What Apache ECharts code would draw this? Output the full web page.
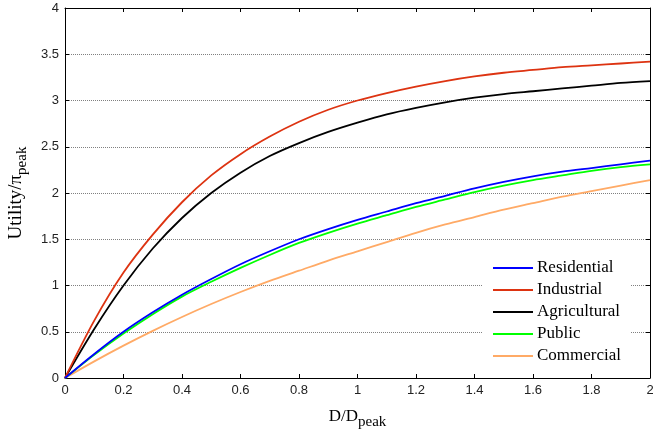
<!DOCTYPE html>
<html>
<head>
<meta charset="utf-8">
<script src="https://cdn.jsdelivr.net/npm/echarts@6/dist/echarts.min.js"></script>
<style>html,body{margin:0;padding:0;background:#fff}#c{width:653px;height:432px}</style>
</head>
<body>
<div id="c"></div>
<script>
var xs = [0, 0.1, 0.2, 0.3, 0.4, 0.5, 0.6, 0.7, 0.8, 0.9, 1.0, 1.1, 1.2, 1.3, 1.4, 1.5, 1.6, 1.7, 1.8, 1.9, 2.0];
var residential  = [0, 0.26, 0.50, 0.71, 0.90, 1.07, 1.23, 1.37, 1.50, 1.61, 1.71, 1.80, 1.89, 1.97, 2.05, 2.12, 2.18, 2.23, 2.27, 2.31, 2.35];
var industrial   = [0, 0.62, 1.14, 1.55, 1.90, 2.19, 2.42, 2.61, 2.77, 2.90, 3.00, 3.08, 3.15, 3.21, 3.26, 3.30, 3.33, 3.36, 3.38, 3.40, 3.42];
var agricultural = [0, 0.53, 1.00, 1.40, 1.73, 2.00, 2.22, 2.40, 2.54, 2.66, 2.76, 2.85, 2.92, 2.98, 3.03, 3.07, 3.10, 3.13, 3.16, 3.19, 3.21];
var publicS      = [0, 0.25, 0.48, 0.69, 0.88, 1.04, 1.19, 1.33, 1.46, 1.57, 1.67, 1.76, 1.85, 1.93, 2.01, 2.08, 2.14, 2.19, 2.24, 2.28, 2.31];
var commercial   = [0, 0.18, 0.35, 0.51, 0.66, 0.80, 0.93, 1.05, 1.16, 1.27, 1.37, 1.47, 1.57, 1.66, 1.74, 1.82, 1.89, 1.96, 2.02, 2.08, 2.14];
var seriesNames = ['Residential', 'Industrial', 'Agricultural', 'Public', 'Commercial'];
var seriesColors = ['#0000ff', '#dd3311', '#000000', '#00ff00', '#ffaa66'];
var seriesValues = [residential, industrial, agricultural, publicS, commercial];

function pairs(v) { return xs.map(function (x, i) { return [x, v[i]]; }); }

var chart = echarts.init(document.getElementById('c'), null, {renderer: 'canvas'});
var tickLabel = {fontFamily: 'Liberation Sans, Arial', fontSize: 13, color: '#222'};
var option = {
  animation: false,
  backgroundColor: '#fff',
  grid: {left: 65, right: 3, top: 8, bottom: 54, containLabel: false, outerBoundsMode: 'none'},
  legend: {
    orient: 'vertical', left: 483, top: 258,
    backgroundColor: '#fff', padding: [1, 9, 3, 10],
    icon: 'rect', itemWidth: 40, itemHeight: 2, itemGap: 4,
    textStyle: {fontFamily: 'Liberation Serif, Times New Roman', fontSize: 17, lineHeight: 18, color: '#000', padding: [0, 0, 0, -1]},
    data: seriesNames
  },
  xAxis: [{
    type: 'value', min: 0, max: 2, interval: 0.2, position: 'bottom',
    name: '{a|D/D}{s|peak}', nameLocation: 'middle', nameGap: 25,
    nameTextStyle: {rich: {
      a: {fontFamily: 'Liberation Serif', fontSize: 17, color: '#000'},
      s: {fontFamily: 'Liberation Serif', fontSize: 15, color: '#000', verticalAlign: 'bottom', padding: [12, 0, 0, 0]}
    }},
    axisLine: {show: true, onZero: false, lineStyle: {color: '#000', width: 1}},
    axisTick: {show: true, inside: true, length: 4, lineStyle: {color: '#000'}},
    axisLabel: Object.assign({margin: 6}, tickLabel),
    splitLine: {show: false}
  }, {
    type: 'value', min: 0, max: 2, interval: 0.2, position: 'top',
    axisLine: {show: true, onZero: false, lineStyle: {color: '#000', width: 1}},
    axisTick: {show: true, inside: true, length: 4, lineStyle: {color: '#000'}},
    axisLabel: {show: false}, splitLine: {show: false}
  }],
  yAxis: [{
    type: 'value', min: 0, max: 4, interval: 0.5, position: 'left',
    name: '{a|Utility/π}{s|peak}', nameLocation: 'middle', nameGap: 35, nameRotate: 90,
    nameTextStyle: {rich: {
      a: {fontFamily: 'Liberation Serif', fontSize: 19, color: '#000'},
      s: {fontFamily: 'Liberation Serif', fontSize: 15, color: '#000', verticalAlign: 'bottom', padding: [12, 0, 0, 0]}
    }},
    axisLine: {show: true, onZero: false, lineStyle: {color: '#000', width: 1}},
    axisTick: {show: true, inside: true, length: 4, lineStyle: {color: '#000'}},
    axisLabel: Object.assign({margin: 6}, tickLabel),
    splitLine: {show: true, lineStyle: {color: '#808080', width: 1, type: [1, 1]}}
  }, {
    type: 'value', min: 0, max: 4, interval: 0.5, position: 'right',
    axisLine: {show: true, onZero: false, lineStyle: {color: '#000', width: 1}},
    axisTick: {show: true, inside: true, length: 4, lineStyle: {color: '#000'}},
    axisLabel: {show: false}, splitLine: {show: false}
  }],
  series: seriesNames.map(function (n, i) {
    return {
      name: n, type: 'line', smooth: 0.3, showSymbol: false, symbol: 'none',
      data: pairs(seriesValues[i]),
      lineStyle: {color: seriesColors[i], width: 1.8},
      itemStyle: {color: seriesColors[i]},
      z: 10 - i
    };
  })
};
chart.setOption(option);
</script>
</body>
</html>
